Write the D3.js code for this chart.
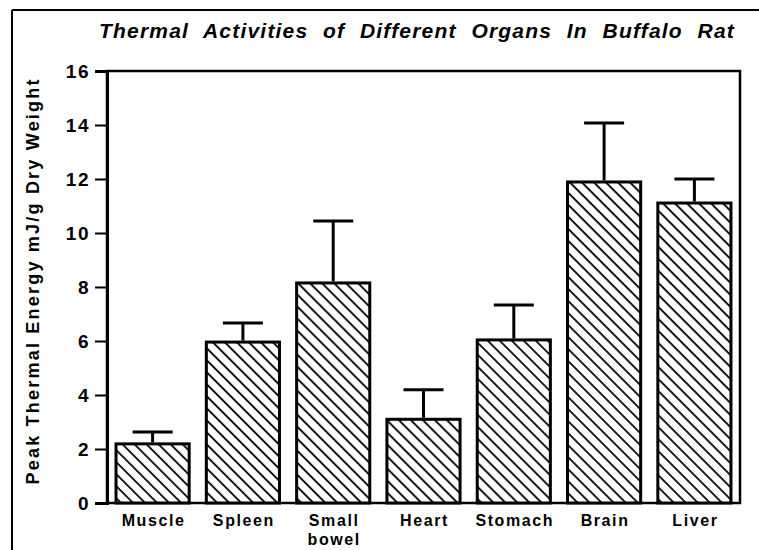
<!DOCTYPE html>
<html><head><meta charset="utf-8">
<script src="https://cdn.jsdelivr.net/npm/d3@7"></script>
<style>body{margin:0;background:#fff}svg{display:block}text{font-family:"Liberation Sans",Arial,sans-serif;fill:#000}</style>
</head><body><div id="chart"></div>
<script>
const categories = ["Muscle", "Spleen", "Small\nbowel", "Heart", "Stomach", "Brain", "Liver"];
const means = [2.19, 5.96, 8.15, 3.1, 6.04, 11.89, 11.11];
const errUpper = [2.63, 6.67, 10.44, 4.19, 7.33, 14.07, 12.0];
const yTicks = [0, 2, 4, 6, 8, 10, 12, 14, 16];
const title = "Thermal Activities of Different Organs In Buffalo Rat";
const yLabel = "Peak Thermal Energy mJ/g Dry Weight";

const W = 759, H = 550;
const m = {left: 107, right: 19, top: 71, bottom: 47};
const svg = d3.select("#chart").append("svg").attr("width", W).attr("height", H);

const defs = svg.append("defs");
const pat = defs.append("pattern").attr("id", "hatch").attr("patternUnits", "userSpaceOnUse")
  .attr("width", 8.5).attr("height", 8.5).attr("patternTransform", "rotate(-45)");
pat.append("rect").attr("width", 8.5).attr("height", 8.5).attr("fill", "#fff");
pat.append("line").attr("x1", 2).attr("y1", 0).attr("x2", 2).attr("y2", 8.5)
  .attr("stroke", "#000").attr("stroke-width", 1.8);

// outer figure border (top and left)
svg.append("line").attr("x1", 12).attr("y1", 10).attr("x2", W).attr("y2", 10).attr("stroke", "#000").attr("stroke-width", 2);
svg.append("line").attr("x1", 12).attr("y1", 10).attr("x2", 12).attr("y2", H).attr("stroke", "#000").attr("stroke-width", 2);

const x = d3.scaleBand().domain(categories).range([m.left, W - m.right]).paddingInner(0.19).paddingOuter(0.1);
const y = d3.scaleLinear().domain([0, 16]).range([H - m.bottom, m.top]);

// frame
svg.append("rect").attr("x", m.left).attr("y", m.top).attr("width", W - m.right - m.left)
  .attr("height", H - m.bottom - m.top).attr("fill", "none").attr("stroke", "#000").attr("stroke-width", 2.5);

// y axis
const yAxis = svg.append("g").attr("transform", `translate(${m.left},0)`)
  .call(d3.axisLeft(y).tickValues(yTicks).tickSize(12).tickPadding(5).tickFormat(d3.format("d")));
yAxis.attr("font-size", null).attr("font-family", null);
yAxis.select(".domain").attr("stroke-width", 3);
yAxis.selectAll(".tick line").attr("stroke-width", 2);
yAxis.selectAll(".tick text").attr("font-size", 19).attr("font-weight", "bold").attr("letter-spacing", 1.5);

// bars
const bw = x.bandwidth();
svg.append("g").selectAll("rect").data(categories).join("rect")
  .attr("x", d => x(d)).attr("y", (d, i) => y(means[i]))
  .attr("width", bw).attr("height", (d, i) => y(0) - y(means[i]))
  .attr("fill", "url(#hatch)").attr("stroke", "#000").attr("stroke-width", 3);

// error bars
const eg = svg.append("g").attr("stroke", "#000").attr("stroke-width", 3);
categories.forEach((c, i) => {
  const cx = x(c) + bw / 2;
  eg.append("line").attr("x1", cx).attr("x2", cx).attr("y1", y(means[i]) - 1.5).attr("y2", y(errUpper[i]));
  eg.append("line").attr("x1", cx - 20).attr("x2", cx + 20).attr("y1", y(errUpper[i])).attr("y2", y(errUpper[i]));
});

// x labels (multi-line labels as separate lines)
const xl = svg.append("g");
categories.forEach(c => {
  c.split("\n").forEach((s, k) => {
    xl.append("text").attr("x", x(c) + bw / 2 + 1).attr("y", 526 + k * 19).attr("text-anchor", "middle")
      .attr("font-size", 16).attr("font-weight", "bold").attr("letter-spacing", 1.6).text(s);
  });
});

// title with widened word spacing
const tt = svg.append("text").attr("x", 99).attr("y", 38).attr("font-size", 21).attr("font-weight", "bold")
  .attr("font-style", "italic").attr("letter-spacing", 1.2).text(title);
const tl = tt.node().getComputedTextLength();
const nSpaces = title.split(" ").length - 1;
tt.attr("word-spacing", Math.max(0, (636 - tl) / nSpaces));

// y label
svg.append("text").attr("transform", "translate(39,282) rotate(-90)").attr("text-anchor", "middle")
  .attr("font-size", 18).attr("font-weight", "bold").attr("textLength", 405).attr("lengthAdjust", "spacing").text(yLabel);
</script></body></html>
